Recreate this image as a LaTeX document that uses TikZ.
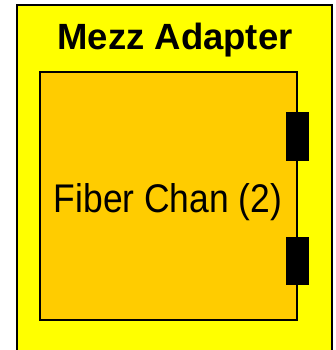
\documentclass[tikz,border=0pt]{standalone}
\usepackage{fontspec}
\setmainfont{Liberation Sans}
\definecolor{adapterfill}{HTML}{FFFF00}
\definecolor{chanfill}{HTML}{FFCC00}
\begin{document}
\begin{tikzpicture}[x=1pt,y=-1pt,
  adapter/.style={draw=black,line width=1.4pt,fill=adapterfill},
  chanbox/.style={draw=black,line width=1.1pt,fill=chanfill},
  port/.style={draw=black,fill=black,line width=0.4pt},
  title/.style={font=\bfseries\fontsize{36.5}{40}\selectfont,inner sep=0pt,anchor=base},
  label/.style={font=\fontsize{40}{44}\selectfont,inner sep=0pt,anchor=base,xscale=0.885}]
  \useasboundingbox (0,0) rectangle (335,350);
  \begin{scope}
    \clip (0,0) rectangle (335,350);
    % outer adapter card, running off the bottom edge
    \path[adapter] (17,5) rectangle (332,362);
  \end{scope}
  \node[title] (ttl) at (175,50) {Mezz Adapter};
  % fibre channel module
  \path[chanbox] (40,72) rectangle (297,320);
  \node[label] (lbl) at (168,212) {Fiber Chan (2)};
  % two connector ports on the right side
  \path[port] (286,112) rectangle (308,160);
  \path[port] (286,237) rectangle (308,284);
\end{tikzpicture}
\end{document}
